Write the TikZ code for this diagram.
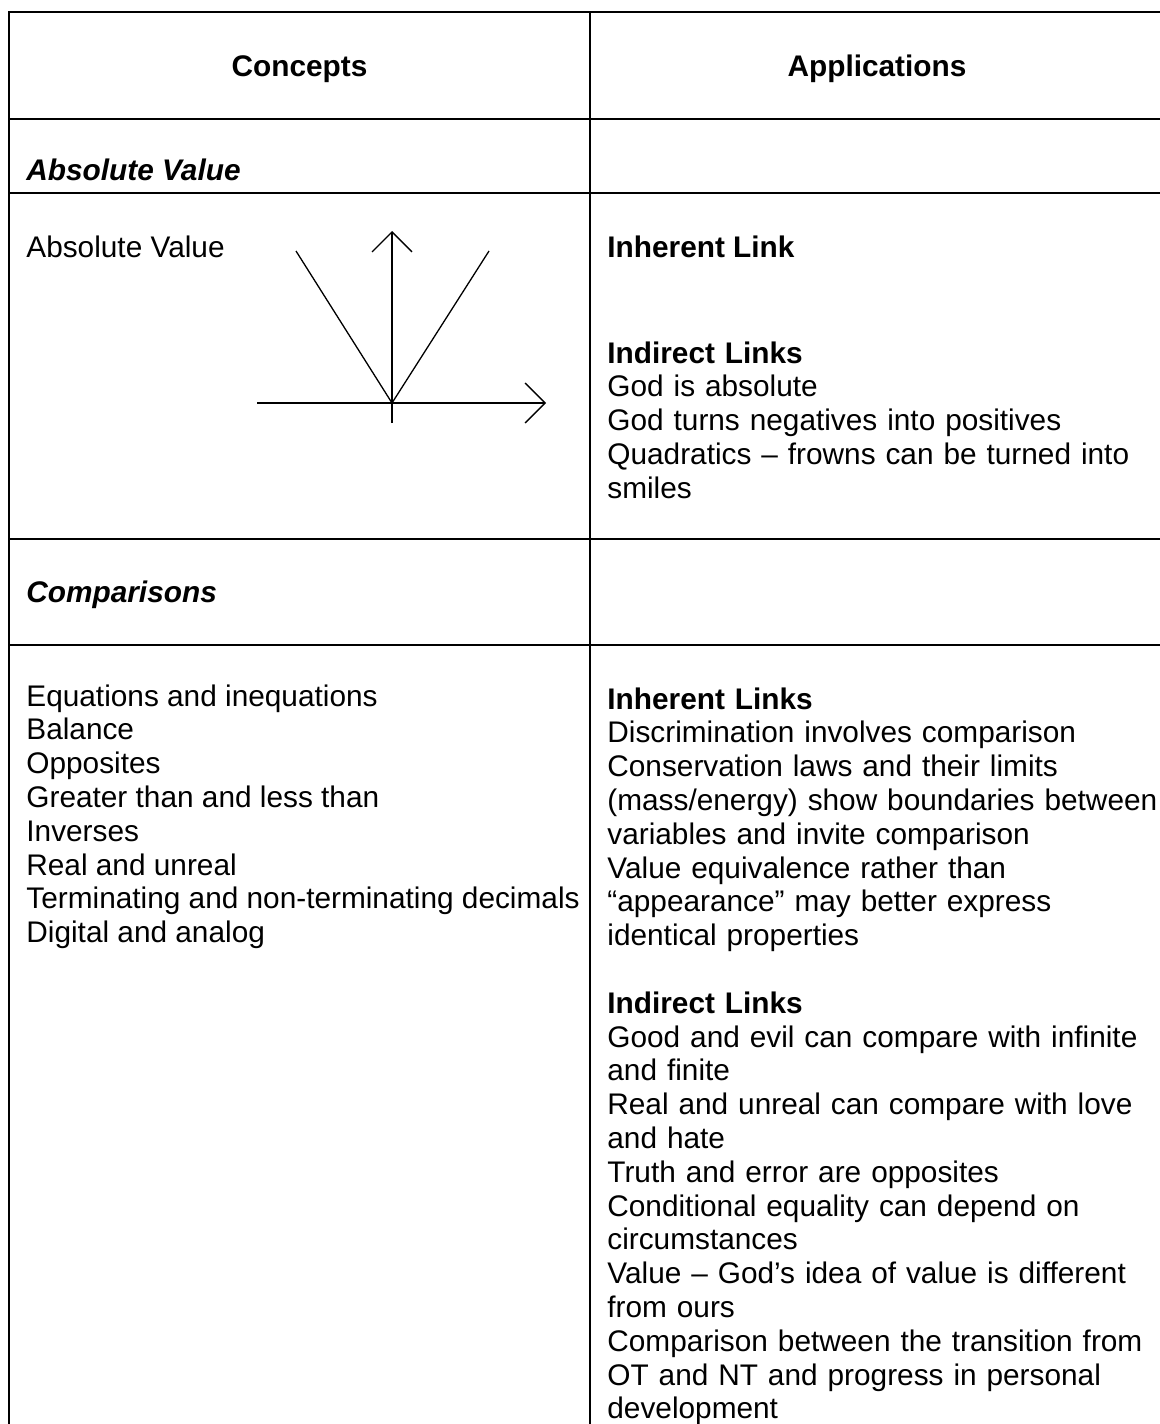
\documentclass[tikz,border=0pt]{standalone}
\usepackage{fontspec}
\setmainfont{Liberation Sans}
\usepackage{tikz}
\usetikzlibrary{arrows.meta}
\newcommand{\cellfont}{\fontsize{14.9}{16.9}\selectfont}

\tikzset{
  gridline/.style={line width=1pt},
  headtext/.style={anchor=base, inner sep=0pt, font=\cellfont\bfseries},
  sectext/.style={anchor=base west, inner sep=0pt, font=\cellfont\bfseries\itshape},
  celltext/.style={anchor=base west, inner sep=0pt, font=\cellfont},
  blocktext/.style={anchor=base west, inner sep=0pt, font=\cellfont, align=left, text width=276pt},
  axisline/.style={line width=0.65pt, -{Straight Barb[length=10pt,width=20pt]}},
  graphline/.style={line width=0.65pt}
}

\begin{document}
\begin{tikzpicture}[x=0.5pt, y=-0.5pt]
        \useasboundingbox (0,0) rectangle (1160,1424);

        % Table grid
        \draw[gridline] (9,1424) -- (9,12) -- (1160,12);
        \draw[gridline] (590,12) -- (590,1424);
        \foreach \y in {119,193,539,645} {
            \draw[gridline] (9,\y) -- (1160,\y);
        }

        % Header row
        \node[headtext] (concepts) at (299.5,76) {Concepts};
        \node[headtext] (applications) at (877,76) {Applications};

        % Absolute value
        \node[sectext] (absval) at (26,180) {Absolute Value};
        \node[celltext] (absname) at (26,257) {Absolute Value};
        \node[celltext, font=\cellfont\bfseries] (inhA) at (607,257) {Inherent Link};
        \node[blocktext] (indA) at (607,363) {\textbf{Indirect Links}\\
            God is absolute\\
            God turns negatives into positives\\
            Quadratics -- frowns can be turned into\\
            smiles};

        % Graph of |x|
        \coordinate (O) at (392,403);
        \draw[axisline] (257,403) -- (546,403);
        \draw[axisline] (392,423) -- (392,231);
        \draw[graphline] (296,251) -- (O) -- (489,251);

        % Comparisons
        \node[sectext] (comparisons) at (26,602) {Comparisons};
        \foreach \txt [count=\i] in {Equations and inequations, Balance, Opposites,
            Greater than and less than, Inverses, Real and unreal,
            Terminating and non-terminating decimals, Digital and analog} {
            \node[celltext] (cmp\i) at (26,{706+33.8*(\i-1)}) {\txt};
        }
        \node[blocktext] (linksB) at (607,709) {\textbf{Inherent Links}\\
            Discrimination involves comparison\\
            Conservation laws and their limits\\
            (mass/energy) show boundaries between\\
            variables and invite comparison\\
            Value equivalence rather than\\
            “appearance” may better express\\
            identical properties\\[16.9pt]
            \textbf{Indirect Links}\\
            Good and evil can compare with infinite\\
            and finite\\
            Real and unreal can compare with love\\
            and hate\\
            Truth and error are opposites\\
            Conditional equality can depend on\\
            circumstances\\
            Value -- God’s idea of value is different\\
            from ours\\
            Comparison between the transition from\\
            OT and NT and progress in personal\\
            development};

    \end{tikzpicture}
\end{document}
